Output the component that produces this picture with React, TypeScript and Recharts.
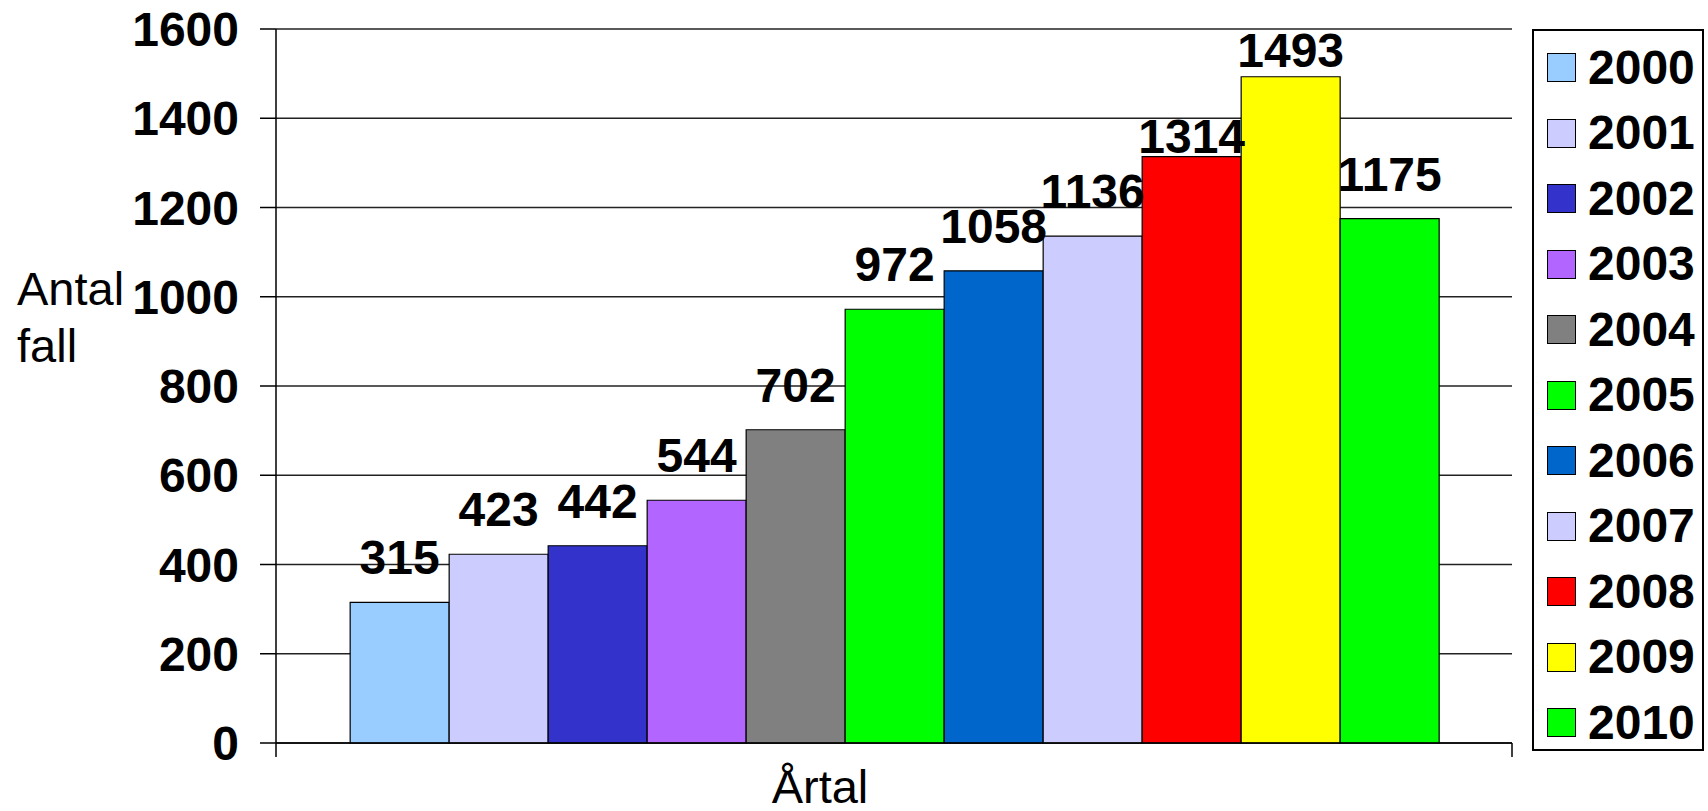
import React from 'react';
import {
    BarChart,
    Bar,
    XAxis,
    YAxis,
    CartesianGrid,
    Legend,
    LabelList
} from 'recharts';

// one category, every year is its own series
const years = ['2000', '2001', '2002', '2003', '2004', '2005', '2006', '2007', '2008', '2009', '2010'];
const cases = [315, 423, 442, 544, 702, 972, 1058, 1136, 1314, 1493, 1175];
const yTicks = [0, 200, 400, 600, 800, 1000, 1200, 1400, 1600];
const categoryName = 'Årtal';

const colors = ['#99CCFF', '#CCCCFF', '#3333CC', '#B266FF', '#808080', '#00FF00', '#0066CC', '#CCCCFF', '#FF0000', '#FFFF00', '#00FF00'];
// Excel pushed a couple of labels down so they fit
const labelOffsets = [28, 28, 28, 28, 28, 28, 28, 28, 4, 10, 28];

const chartData = [
    years.reduce((row: any, year, i) => {
        row['y' + year] = cases[i];
        return row;
    }, { name: categoryName })
];

const FONT = '"Liberation Sans", Arial, sans-serif';

const LegendBox = () => (
    <div style={{
        width: 172,
        height: 722,
        boxSizing: 'border-box',
        border: '2px solid #000',
        background: '#fff',
        paddingTop: 4,
        fontFamily: FONT
    }}>
        {years.map((year, i) => (
            <div key={year} style={{ height: 65.5, display: 'flex', alignItems: 'center' }}>
                <div style={{
                    width: 29,
                    height: 29,
                    marginLeft: 13,
                    boxSizing: 'border-box',
                    border: '1.5px solid #000',
                    background: colors[i]
                }} />
                <span style={{ marginLeft: 12, fontSize: 48, fontWeight: 'bold', lineHeight: 1, color: '#000' }}>{year}</span>
            </div>
        ))}
    </div>
);

const YTitle = () => (
    <text x={17} y={305} fontSize={47} fontFamily={FONT} fill="#000">
        <tspan x={17} y={305}>Antal</tspan>
        <tspan x={17} y={362}>fall</tspan>
    </text>
);

const XTitle = () => (
    <text x={820} y={803} fontSize={47} fontFamily={FONT} fill="#000" textAnchor="middle">{categoryName}</text>
);

// Excel puts the category tick marks on the band edges, not the centre
const EdgeTicks = (props: any) => {
    const { x, y, width } = props;
    if (typeof width !== 'number') return <g />;
    const half = width / 2;
    return (
        <g>
            <line x1={x - half} y1={y} x2={x - half} y2={y + 14} stroke="#000" strokeWidth={1.5} />
            <line x1={x + half} y1={y} x2={x + half} y2={y + 14} stroke="#000" strokeWidth={1.5} />
        </g>
    );
};

const App = () => {
    return (
        <div style={{ position: 'absolute', left: 0, top: 0, width: 1708, height: 811, background: '#fff' }}>
            <BarChart
                width={1708}
                height={811}
                data={chartData}
                margin={{ top: 29, right: 24, bottom: 38, left: 0 }}
                barGap={0}
                barCategoryGap="6%"
            >
                <CartesianGrid xAxisId="cat" horizontal vertical={false} stroke="#222" strokeWidth={1.5} />
                <XAxis
                    xAxisId="cat"
                    dataKey="name"
                    height={30}
                    tickSize={0}
                    tickMargin={0}
                    tickLine={false}
                    tick={EdgeTicks}
                    axisLine={{ stroke: '#000', strokeWidth: 1.5 }}
                    label={XTitle}
                />
                <YAxis
                    width={276}
                    domain={[0, 1600]}
                    ticks={yTicks}
                    interval={0}
                    tickSize={16}
                    tickMargin={21}
                    axisLine={{ stroke: '#000', strokeWidth: 1.5 }}
                    tickLine={{ stroke: '#000', strokeWidth: 1.5 }}
                    tick={{ fill: '#000', fontSize: 48, fontWeight: 'bold', fontFamily: FONT }}
                    label={YTitle}
                />
                <Legend
                    layout="vertical"
                    align="right"
                    verticalAlign="top"
                    content={<LegendBox />}
                    wrapperStyle={{ left: 1532, top: 29, width: 172 }}
                />
                {years.map((year, i) => (
                    <Bar
                        key={year}
                        xAxisId="cat"
                        dataKey={'y' + year}
                        name={year}
                        fill={colors[i]}
                        stroke="#000"
                        strokeWidth={1.2}
                        isAnimationActive={false}
                    >
                        <LabelList
                            dataKey={'y' + year}
                            position="top"
                            offset={labelOffsets[i]}
                            fill="#000"
                            fontSize={48}
                            fontWeight="bold"
                            fontFamily={FONT}
                        />
                    </Bar>
                ))}
            </BarChart>
        </div>
    );
};

export default App;
